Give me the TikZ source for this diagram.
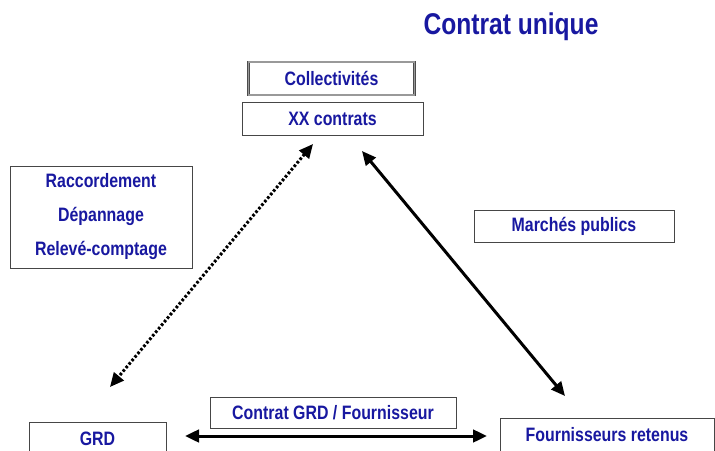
\documentclass[tikz,border=0pt]{standalone}
\usepackage{fontspec}
\setmainfont{Liberation Sans}[FakeStretch=0.82]
\usetikzlibrary{arrows.meta}
\definecolor{txtblue}{RGB}{24,24,160}
\definecolor{boxline}{RGB}{70,70,70}
\tikzset{
  box/.style={draw=boxline, line width=1pt, fill=white, inner sep=0pt, text=txtblue,
    font=\bfseries\fontsize{19.4}{23}\selectfont, align=center},
  conn/.style={line width=3pt, {Triangle[length=14pt,width=12.5pt]}-{Triangle[length=14pt,width=12.5pt]}},
  dotconn/.style={conn, dash pattern=on 2.6pt off 2pt},
}
\begin{document}
\begin{tikzpicture}[x=1pt,y=-1pt]
\useasboundingbox (0,0) rectangle (715,450);
\clip (0,0) rectangle (715,450);
\node[text=txtblue, font=\bfseries\fontsize{30}{34}\selectfont] (title) at (511,27) {Contrat unique};
\node[box, minimum width=166pt, minimum height=33pt, draw=black!70, double=black!40, double distance=1.3pt, line width=0.8pt] (coll) at (331.5,78.5) {Collectivités};
\node[box, minimum width=181pt, minimum height=33pt] (xx) at (332.5,118.5) {XX contrats};
\node[box, minimum width=182pt, minimum height=102pt, font=\bfseries\fontsize{19.4}{34}\selectfont] (serv) at (101,217) {Raccordement\\Dépannage\\Relevé-comptage};
\node[box, minimum width=200pt, minimum height=32pt] (mp) at (574,226) {Marchés publics};
\node[box, minimum width=137pt, minimum height=34pt] (grd) at (97.5,439) {GRD};
\node[box, minimum width=246pt, minimum height=31pt] (cgf) at (333,412.5) {Contrat GRD / Fournisseur};
\node[box, minimum width=214pt, minimum height=33pt] (fr) at (607,434.5) {Fournisseurs retenus};
\coordinate (d1) at (313,144);
\coordinate (d2) at (110,387);
\coordinate (s1) at (362,151);
\coordinate (s2) at (565,396);
\coordinate (h1) at (185,436);
\coordinate (h2) at (487,436);
\draw[dotconn] (d1) -- (d2);
\draw[conn] (s1) -- (s2);
\draw[conn] (h1) -- (h2);
\end{tikzpicture}
\end{document}
